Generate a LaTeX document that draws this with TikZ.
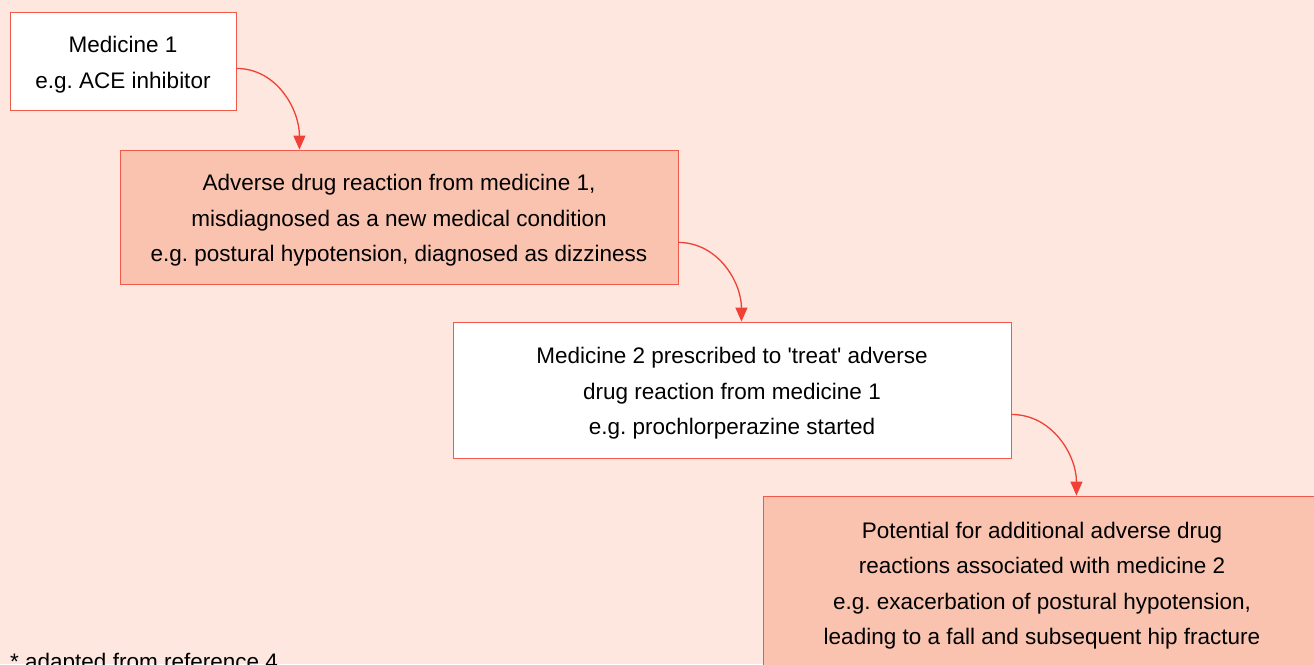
\documentclass[tikz,border=0pt]{standalone}
\usepackage{fontspec}
\setmainfont{Liberation Sans}
\usepackage{xcolor}
\usetikzlibrary{arrows.meta}

\definecolor{pagebg}{HTML}{FDE7DF}
\definecolor{salmon}{HTML}{F9C3B0}
\definecolor{edgered}{HTML}{F15A4A}
\definecolor{arrowred}{HTML}{EF4136}

\frenchspacing
% lifts the first line of a box so its text sits a little lower
\newcommand{\topgap}{\rule{0pt}{23.5pt}}

\begin{document}
\begin{tikzpicture}[
    x=1pt, y=-1pt,
    box/.style={rectangle, draw=edgered, line width=0.9pt, align=center, minimum width=558pt, inner sep=0pt,
        font=\fontsize{22.5}{35.5}\selectfont},
    arrow/.style={-{Triangle[length=14pt, width=12pt]}, arrowred, line width=1.3pt},
]
    \useasboundingbox (0,0) rectangle (1314,664);
    \clip (0,0) rectangle (1314,664);
    \fill[pagebg] (0,0) rectangle (1314,664);

    \node[box, fill=white, minimum width=226pt, minimum height=98pt] (med1) at (123,61) {\topgap Medicine 1\\e.g. ACE inhibitor};
    \node[box, fill=salmon, minimum height=134pt] (adr) at (399,217) {\topgap Adverse drug reaction from medicine 1,\\misdiagnosed as a new medical condition\\e.g. postural hypotension, diagnosed as dizziness};
    \node[box, fill=white, minimum height=136pt] (med2) at (732,390) {\topgap Medicine 2 prescribed to \textquotesingle treat\textquotesingle{} adverse\\drug reaction from medicine 1\\e.g. prochlorperazine started};
    \node[box, fill=salmon, minimum height=172pt] (risk) at (1042,582) {\topgap Potential for additional adverse drug\\reactions associated with medicine 2\\e.g. exacerbation of postural hypotension,\\leading to a fall and subsequent hip fracture};

    \node[anchor=base west, inner sep=0pt, font=\fontsize{22.5}{36}\selectfont] (note) at (10,669) {* adapted from reference 4};

    % curved links, each leaves a box on its right and drops onto the next
    \coordinate (s1) at ([yshift=42pt]med1.south east);
    \coordinate (s2) at ([yshift=42pt]adr.south east);
    \coordinate (s3) at ([yshift=44pt]med2.south east);
    \coordinate (k1) at ([xshift=63pt]s1);
    \coordinate (k2) at ([xshift=63pt]s2);
    \coordinate (k3) at ([xshift=65pt]s3);

    \draw[arrow] (s1) to[out=0, in=90] (k1 |- adr.north);
    \draw[arrow] (s2) to[out=0, in=90] (k2 |- med2.north);
    \draw[arrow] (s3) to[out=0, in=90] (k3 |- risk.north);
\end{tikzpicture}
\end{document}
